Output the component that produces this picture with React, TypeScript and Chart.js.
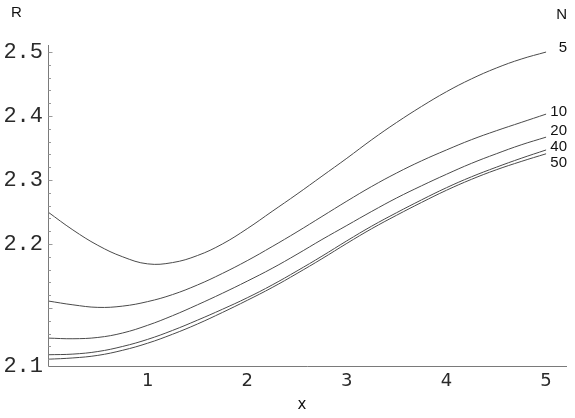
import React, { useEffect, useRef } from "react";
import { Chart, registerables } from "chart.js";

Chart.register(...registerables);

const xs = [0, 0.25, 0.5, 0.75, 1, 1.25, 1.5, 1.75, 2, 2.25, 2.5, 2.75, 3, 3.25, 3.5, 3.75, 4, 4.25, 4.5, 4.75, 5];

const seriesN = ["5", "10", "20", "40", "50"];

const r5 = [2.25, 2.222, 2.198, 2.18, 2.169, 2.171, 2.182, 2.2, 2.224, 2.251, 2.278, 2.306, 2.334, 2.363, 2.39, 2.415, 2.438, 2.458, 2.475, 2.489, 2.5];
const r10 = [2.111, 2.105, 2.101, 2.103, 2.11, 2.121, 2.136, 2.154, 2.174, 2.196, 2.219, 2.243, 2.267, 2.29, 2.311, 2.33, 2.347, 2.363, 2.377, 2.39, 2.403];
const r20 = [2.053, 2.052, 2.054, 2.061, 2.073, 2.088, 2.105, 2.123, 2.142, 2.162, 2.184, 2.207, 2.229, 2.251, 2.272, 2.291, 2.309, 2.326, 2.341, 2.355, 2.367];
const r40 = [2.027, 2.028, 2.032, 2.04, 2.051, 2.065, 2.081, 2.098, 2.116, 2.136, 2.158, 2.181, 2.205, 2.228, 2.249, 2.269, 2.288, 2.305, 2.32, 2.334, 2.347];
const r50 = [2.02, 2.022, 2.026, 2.034, 2.045, 2.059, 2.075, 2.093, 2.112, 2.132, 2.154, 2.177, 2.201, 2.224, 2.245, 2.265, 2.284, 2.301, 2.316, 2.329, 2.341];

const allSeries = [r5, r10, r20, r40, r50];

const xTickValues = [1, 2, 3, 4, 5];
const yTickValues = [2.2, 2.3, 2.4, 2.5];
const yOriginLabel = "2.1";
const yMin = 2.0094;
const yMax = 2.511;
const xMin = 0;
const xMax = 5.21;

const axesPlugin = {
  id: "mmaAxes",
  afterDraw(chart: any) {
    const { ctx, scales } = chart;
    const xs_ = scales.x;
    const ys_ = scales.y;
    const x0 = Math.round(xs_.getPixelForValue(xMin)) + 0.5;
    const y0 = Math.round(ys_.getPixelForValue(yMin)) + 0.5;
    const yTop = ys_.getPixelForValue(yMax);
    const xRight = xs_.getPixelForValue(xMax);
    ctx.save();
    ctx.strokeStyle = "#7a7a7a";
    ctx.lineWidth = 1;
    ctx.beginPath();
    ctx.moveTo(x0, yTop);
    ctx.lineTo(x0, y0);
    ctx.moveTo(x0, y0);
    ctx.lineTo(xRight, y0);
    ctx.stroke();
    // y ticks (inward)
    ctx.strokeStyle = "#9a9a9a";
    ctx.beginPath();
    for (let k = 101; k <= 250; k++) {
      const v = k / 50;
      if (v < yMin || v > yMax) continue;
      const py = Math.round(ys_.getPixelForValue(v)) + 0.5;
      const major = k % 5 === 0;
      ctx.moveTo(x0, py);
      ctx.lineTo(x0 + (major ? 4 : 2.5), py);
    }
    ctx.stroke();

    // labels
    ctx.fillStyle = "#111";
    ctx.font = "15px 'Liberation Sans', Arial, sans-serif";
    ctx.textBaseline = "middle";
    ctx.textAlign = "left";
    ctx.fillText("R", 11, 13);
    ctx.textAlign = "right";
    ctx.fillText("N", 567, 15);
    const labelY = [48, 112, 131, 147, 163];
    seriesN.forEach((n, i) => {
      ctx.fillText(n, 567, labelY[i]);
    });
    ctx.textAlign = "center";
    ctx.font = "15px 'DejaVu Sans', sans-serif";
    ctx.fillText("x", 302, 405);
    ctx.restore();
  },
};

export default function App() {
  const ref = useRef<HTMLCanvasElement | null>(null);
  useEffect(() => {
    if (!ref.current) return;
    const datasets = allSeries.map((s, i) => ({
      label: "N=" + seriesN[i],
      data: xs.map((x, j) => ({ x, y: s[j] })),
      borderColor: "#4a4a4a",
      borderWidth: 1,
      pointRadius: 0,
      fill: false,
      tension: 0.4,
    }));
    const chart = new Chart(ref.current, {
      type: "line",
      data: { datasets },
      options: {
        animation: false,
        responsive: false,
        layout: { padding: { top: 45, right: 8, left: 0, bottom: 0 } },
        plugins: { legend: { display: false }, tooltip: { enabled: false } },
        scales: {
          x: {
            type: "linear",
            min: xMin,
            max: xMax,
            grid: { display: false, drawTicks: false },
            border: { display: false },
            afterBuildTicks: (s: any) => {
              s.ticks = xTickValues.map((v) => ({ value: v }));
            },
            afterFit: (s: any) => {
              s.height = 52;
            },
            ticks: {
              color: "#2a2a2a",
              padding: 5,
              maxRotation: 0,
              font: { family: "'DejaVu Sans', sans-serif", size: 18 },
              callback: (v: any) => String(v),
            },
          },
          y: {
            type: "linear",
            min: yMin,
            max: yMax,
            grid: { display: false, drawTicks: false },
            border: { display: false },
            afterBuildTicks: (s: any) => {
              s.ticks = [{ value: yMin }, ...yTickValues.map((v) => ({ value: v }))];
            },
            afterFit: (s: any) => {
              s.width = 48;
            },
            ticks: {
              color: "#2a2a2a",
              padding: 5,
              font: { family: "'Liberation Mono', monospace", size: 22 },
              callback: (v: any, i: number) => (i === 0 ? yOriginLabel : Number(v).toFixed(1)),
            },
          },
        },
      },
      plugins: [axesPlugin],
    });
    return () => chart.destroy();
  }, []);
  return (
    <div style={{ position: "absolute", left: 0, top: 0, width: 575, height: 418, background: "#fff" }}>
      <canvas ref={ref} width={575} height={418} />
    </div>
  );
}
